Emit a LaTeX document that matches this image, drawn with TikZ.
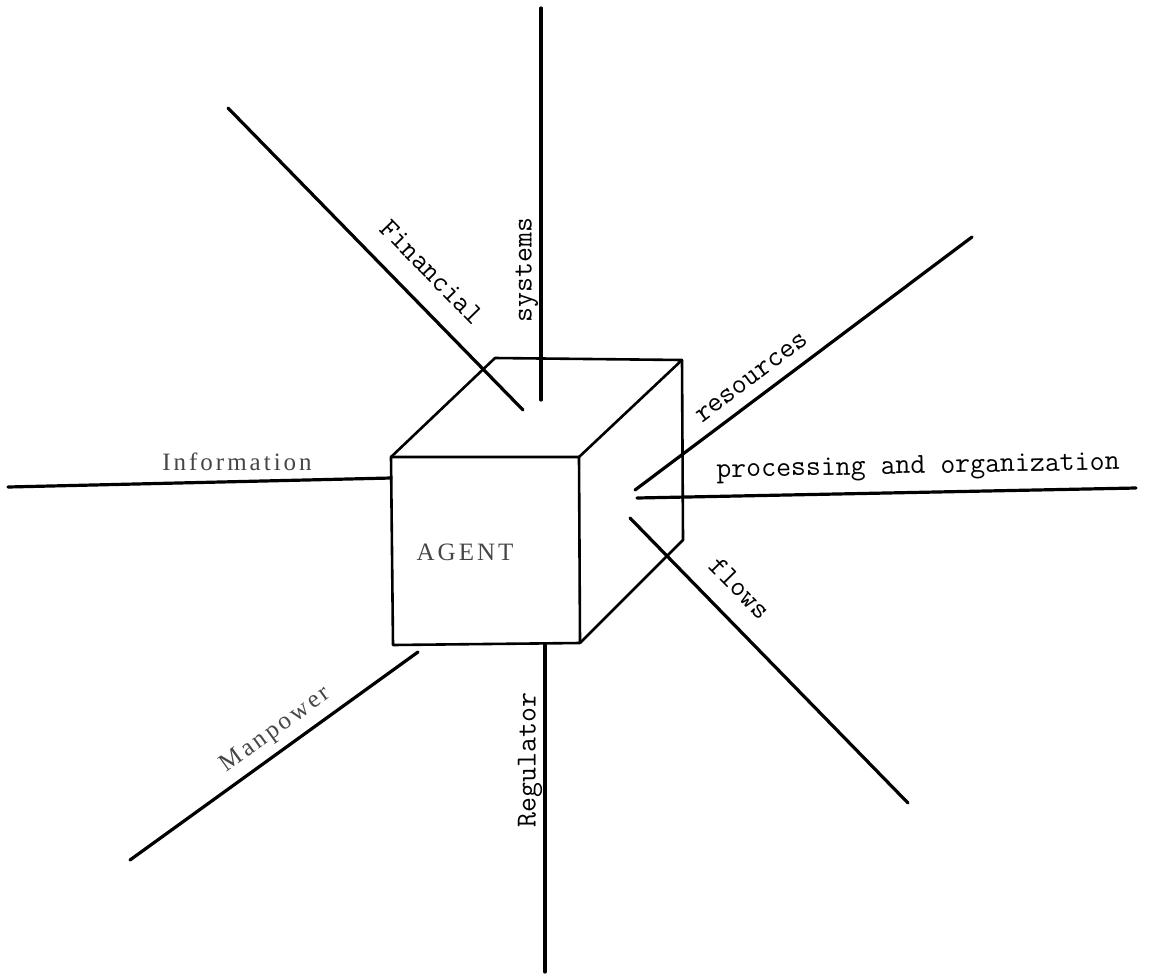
\documentclass[tikz,border=0pt]{standalone}
\usepackage{fontspec}
\usepackage{tikz}
\newfontfamily\faded[LetterSpace=12]{Liberation Serif}
\definecolor{inkGray}{RGB}{70, 70, 70}
\tikzset{
  spoke/.style={line width=3.2pt, line cap=round},
  edge/.style={line width=2.6pt, line join=round},
  tlabel/.style={font=\ttfamily\fontsize{29}{34}\selectfont, inner sep=0pt},
  slabel/.style={font=\faded\fontsize{25}{30}\selectfont, text=inkGray, inner sep=0pt}
}

\begin{document}
\begin{tikzpicture}[x=1pt, y=-1pt]
  \useasboundingbox (0,0) rectangle (1151,975);
  % cube corners
  \coordinate (f1) at (391,457);
  \coordinate (f2) at (579,457);
  \coordinate (f3) at (580,643);
  \coordinate (f4) at (393,645);
  \coordinate (b1) at (495,358);
  \coordinate (b2) at (682,360);
  \coordinate (b3) at (683,540);
  \draw[edge] (f1) -- (f2) -- (f3) -- (f4) -- cycle;
  \draw[edge] (f1) -- (b1) -- (b2) -- (f2);
  \draw[edge] (b2) -- (b3) -- (f3);
  \node[slabel] (agent) at (465,552) {AGENT};
  % spoke ends
  \coordinate (sysA) at (541,400);  \coordinate (sysB) at (541,8);
  \coordinate (finA) at (228,108);  \coordinate (finB) at (523,410);
  \coordinate (resA) at (635,490);  \coordinate (resB) at (972,237);
  \coordinate (proA) at (637,498);  \coordinate (proB) at (1136,488);
  \coordinate (floA) at (630,518);  \coordinate (floB) at (908,803);
  \coordinate (regA) at (545,645);  \coordinate (regB) at (545,972);
  \coordinate (manA) at (130,860);  \coordinate (manB) at (418,652);
  \coordinate (infA) at (8,487);    \coordinate (infB) at (391,478);
  \draw[spoke] (sysA) -- (sysB);
  \draw[spoke] (finA) -- (finB);
  \draw[spoke] (resA) -- (resB);
  \draw[spoke] (proA) -- (proB);
  \draw[spoke] (floA) -- (floB);
  \draw[spoke] (regA) -- (regB);
  \draw[spoke] (manA) -- (manB);
  \draw[spoke] (infA) -- (infB);
  % labels along the spokes
  \node[tlabel, rotate=90] (sys) at (527,270) {systems};
  \node[tlabel, rotate=-45.7] (fin) at (432,272) {Financial};
  \node[tlabel, rotate=36.9] (res) at (752,378) {resources};
  \node[tlabel, rotate=1.1] (pro) at (918,468) {processing and organization};
  \node[tlabel, rotate=-45.7] (flo) at (740,588) {flows};
  \node[tlabel, rotate=90] (reg) at (530,760) {Regulator};
  \node[slabel, rotate=35.8] (man) at (276,730) {Manpower};
  \node[slabel] (inf) at (237,462) {Information};
\end{tikzpicture}
\end{document}
